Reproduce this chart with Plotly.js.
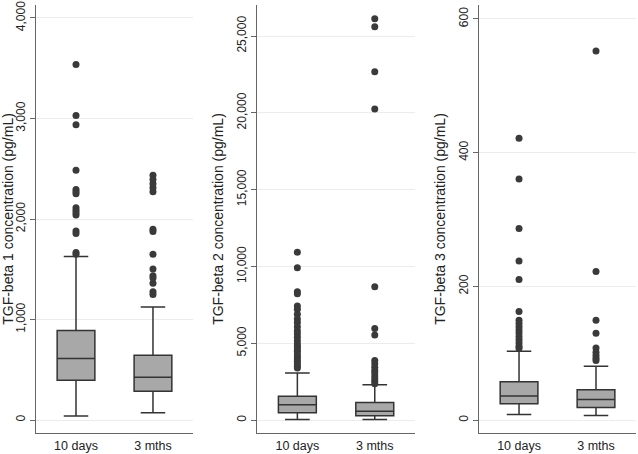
<!DOCTYPE html>
<html>
<head>
<meta charset="utf-8">
<script src="https://cdn.plot.ly/plotly-3.0.1.min.js"></script>
<style>
  html, body { margin: 0; padding: 0; background: #fff; }
  #chart { width: 638px; height: 454px; }
</style>
</head>
<body>
<div id="chart"></div>
<script>
var groups = ['10 days', '3 mths'];

// TGF-beta 1
var b1Q1 = [396, 287];
var b1Med = [611, 426];
var b1Q3 = [891, 644];
var b1Lo = [40, 73];
var b1Hi = [1627, 1125];
var b1Out10 = [3538, 3030, 2937, 2485, 2294, 2271, 2251, 2112, 2086, 2063, 2040, 1881, 1855, 1667, 1650];
var b1Out3 = [2436, 2393, 2350, 2310, 2271, 1898, 1875, 1650, 1502, 1436, 1413, 1360, 1277, 1248];

// TGF-beta 2
var b2Q1 = [474, 280];
var b2Med = [1000, 582];
var b2Q3 = [1551, 1142];
var b2Lo = [45, 45];
var b2Hi = [3060, 2306];
var b2Out10 = [10926, 9913, 8361, 8232, 7435, 7219, 6896, 6573, 6357, 6077, 5819, 5603, 5388, 5172,
  4956, 4784, 4633, 4482, 4310, 4138, 3987, 3836, 3664, 3513, 3383];
var b2Out3 = [26119, 25601, 22671, 20257, 8685, 5969, 5538, 3879, 3664, 3448, 3233, 3060, 2866, 2694, 2521, 2370];

// TGF-beta 3
var b3Q1 = [24.3, 18.8];
var b3Med = [36.1, 30.7];
var b3Q3 = [57.4, 45.5];
var b3Lo = [8.4, 6.9];
var b3Hi = [103, 80.7];
var b3Out10 = [421.7, 360.4, 286.6, 238.1, 210.4, 162.4, 149.5, 144.5, 139.6, 134.6, 130.2, 125.2, 120.3, 115.4, 110.4, 107.4];
var b3Out3 = [551.9, 222.3, 149.5, 129.7, 107.9, 101.5, 96.5, 92.6, 89.1];

var titles = [
  'TGF-beta 1 concentration (pg/mL)',
  'TGF-beta 2 concentration (pg/mL)',
  'TGF-beta 3 concentration (pg/mL)'
];

function boxTrace(q1, med, q3, lo, hi, n) {
  return {
    type: 'box',
    x: groups,
    q1: q1,
    median: med,
    q3: q3,
    lowerfence: lo,
    upperfence: hi,
    boxpoints: false,
    width: 0.49,
    whiskerwidth: 0.65,
    fillcolor: '#a8a8a8',
    line: { color: '#333333', width: 1.5 },
    xaxis: 'x' + n,
    yaxis: 'y' + n,
    hoverinfo: 'skip',
    showlegend: false
  };
}

function outTrace(out10, out3, n) {
  var xs = out10.map(function () { return groups[0]; })
    .concat(out3.map(function () { return groups[1]; }));
  return {
    type: 'scatter',
    mode: 'markers',
    x: xs,
    y: out10.concat(out3),
    marker: { color: '#3a3a3a', size: 7 },
    xaxis: 'x' + n,
    yaxis: 'y' + n,
    hoverinfo: 'skip',
    showlegend: false
  };
}

var data = [
  boxTrace(b1Q1, b1Med, b1Q3, b1Lo, b1Hi, ''),
  outTrace(b1Out10, b1Out3, ''),
  boxTrace(b2Q1, b2Med, b2Q3, b2Lo, b2Hi, '2'),
  outTrace(b2Out10, b2Out3, '2'),
  boxTrace(b3Q1, b3Med, b3Q3, b3Lo, b3Hi, '3'),
  outTrace(b3Out10, b3Out3, '3')
];

var family = 'Liberation Sans, Arial, sans-serif';
var fnt = { family: family, size: 12, color: '#222222' };

function xAxis(dom, anchor) {
  return {
    domain: dom,
    anchor: anchor,
    type: 'category',
    categoryorder: 'array',
    categoryarray: groups,
    range: [-0.52, 1.52],
    showline: true,
    linecolor: '#666666',
    linewidth: 1,
    showgrid: false,
    zeroline: false,
    ticks: 'outside',
    ticklen: 1,
    tickcolor: 'rgba(0,0,0,0)',
    tickfont: { family: family, size: 12.5, color: '#222222' },
    fixedrange: true
  };
}

function yAxis(anchor, rng, dt, title) {
  return {
    anchor: anchor,
    range: rng,
    dtick: dt,
    tick0: 0,
    tickformat: ',d',
    tickangle: -90,
    ticklabeloverflow: 'allow',
    showline: true,
    linecolor: '#666666',
    linewidth: 1,
    showgrid: true,
    gridcolor: '#ececec',
    gridwidth: 1,
    zeroline: false,
    ticks: 'outside',
    ticklen: 5,
    tickcolor: '#666666',
    tickfont: fnt,
    title: { text: title, font: { family: family, size: 14, color: '#222222' }, standoff: 8 },
    fixedrange: true
  };
}

var layout = {
  width: 638,
  height: 454,
  margin: { l: 0, r: 0, t: 5, b: 21 },
  paper_bgcolor: '#ffffff',
  plot_bgcolor: '#ffffff',
  showlegend: false,
  xaxis: xAxis([0.0564, 0.3025], 'y'),
  xaxis2: xAxis([0.4030, 0.6505], 'y2'),
  xaxis3: xAxis([0.7508, 0.9969], 'y3'),
  yaxis: yAxis('x', [-129, 4129], 1000, titles[0]),
  yaxis2: yAxis('x2', [-840, 27020], 5000, titles[1]),
  yaxis3: yAxis('x3', [-19.3, 620.8], 200, titles[2])
};

Plotly.newPlot('chart', data, layout, { displayModeBar: false, staticPlot: true });
</script>
</body>
</html>
